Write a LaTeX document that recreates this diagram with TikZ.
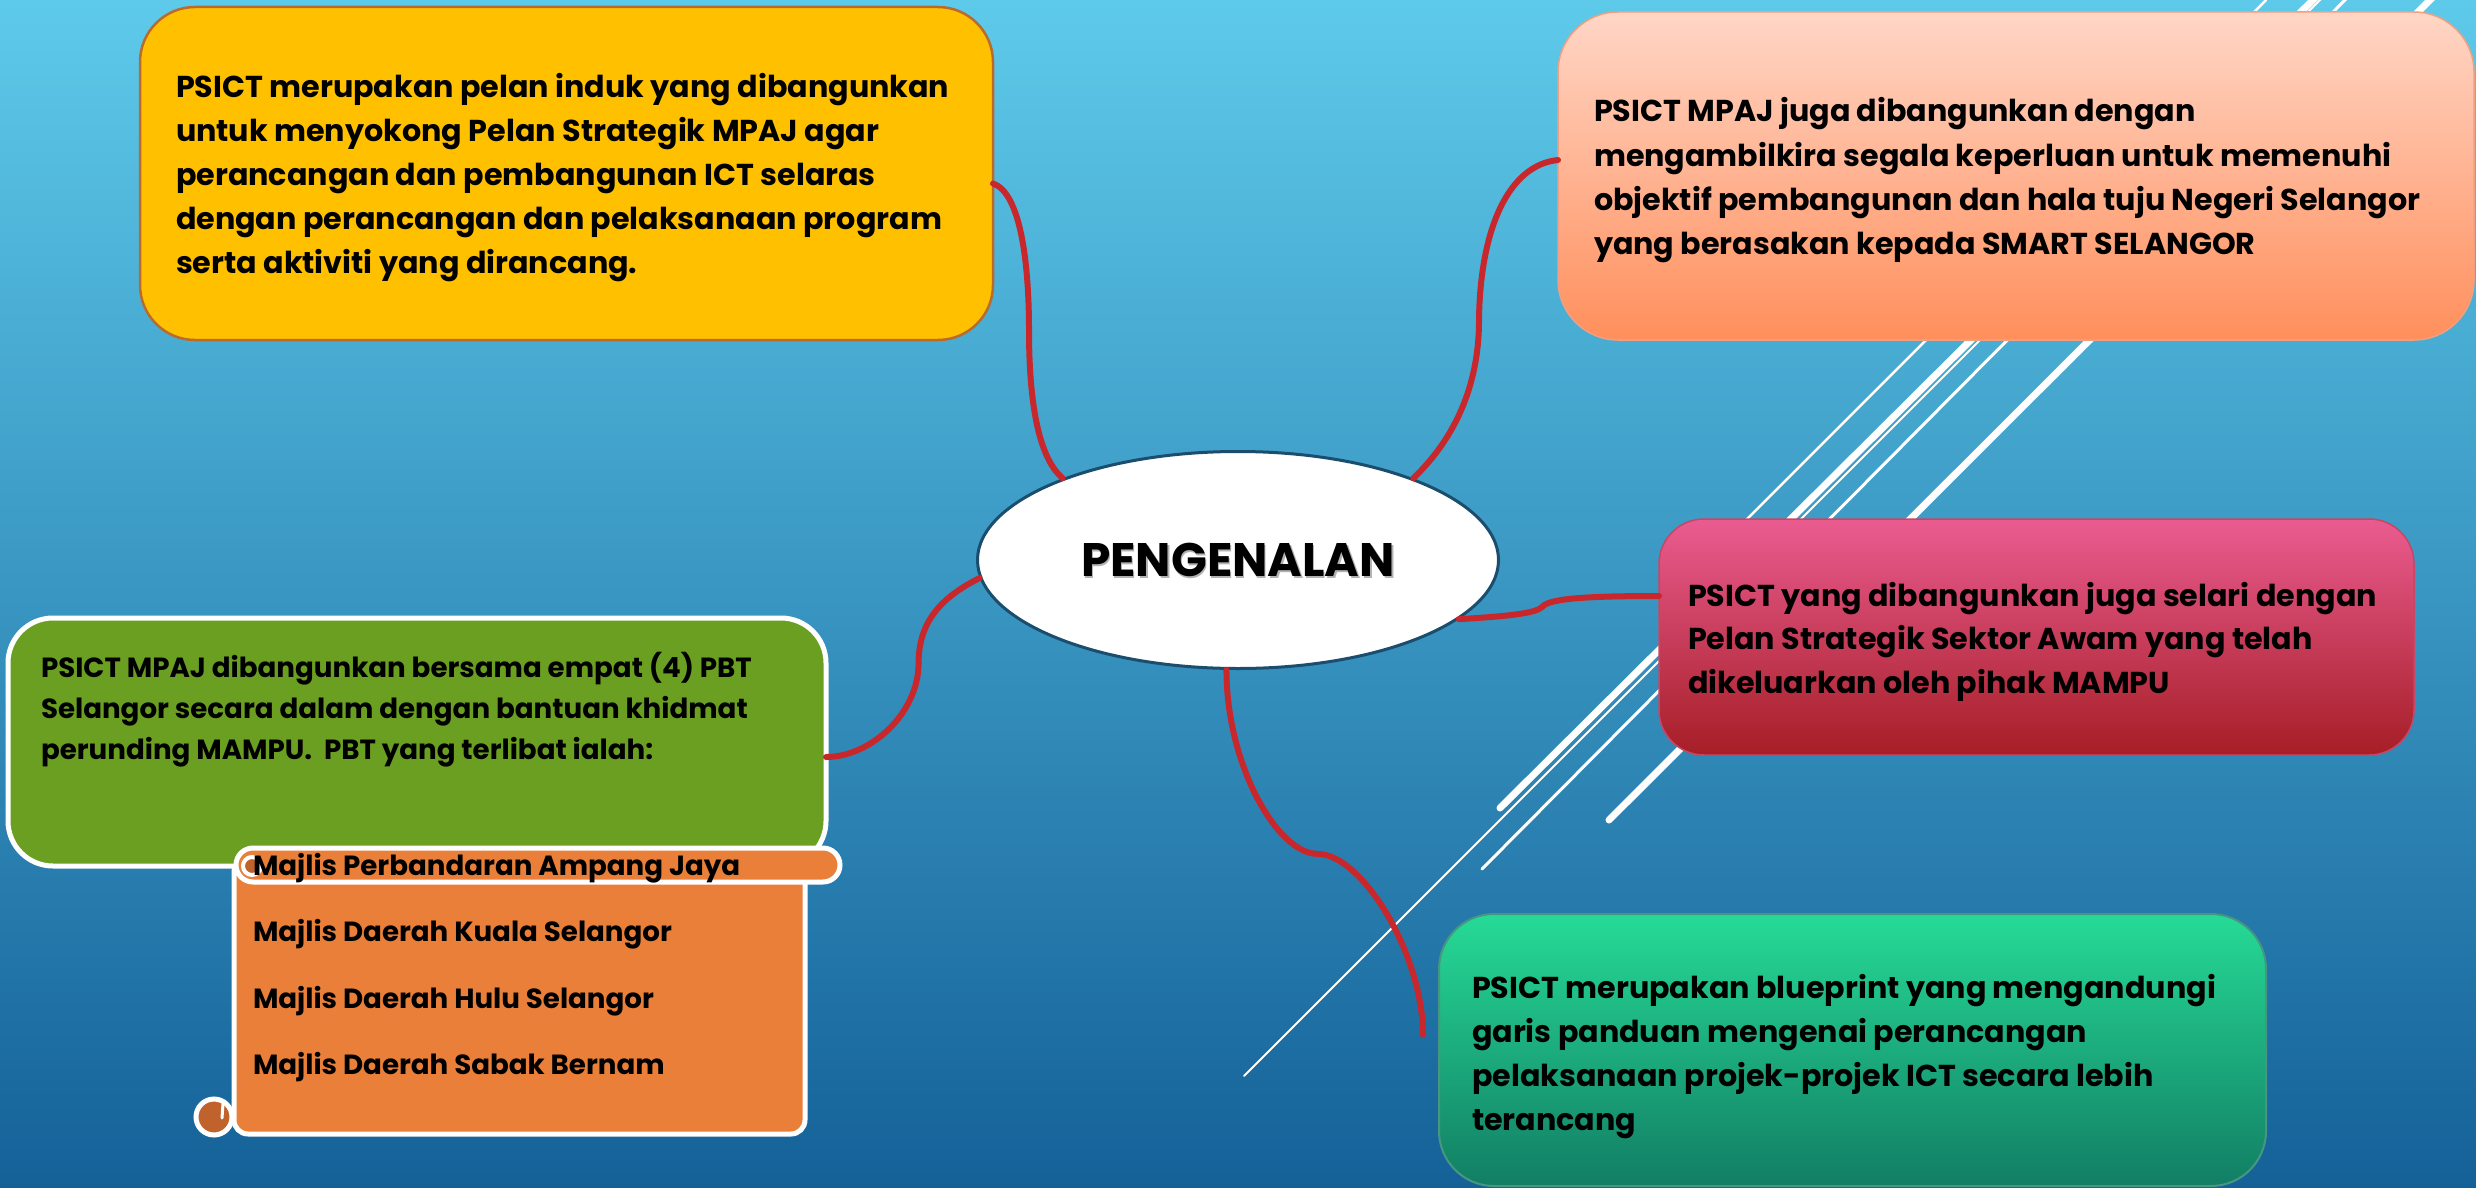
\documentclass[tikz,border=0pt]{standalone}
\usepackage{fontspec}
\setmainfont{Poppins}
\usetikzlibrary{shapes.geometric,calc}
\definecolor{bgtop}{RGB}{94,202,234}
\definecolor{bgmid}{RGB}{55,152,198}
\definecolor{bgbot}{RGB}{20,97,152}
\definecolor{yelfill}{RGB}{255,192,0}
\definecolor{yelline}{RGB}{184,107,42}
\definecolor{peachtop}{RGB}{255,214,198}
\definecolor{peachbot}{RGB}{255,143,92}
\definecolor{peachline}{RGB}{240,160,130}
\definecolor{pinktop}{RGB}{234,92,144}
\definecolor{pinkbot}{RGB}{166,30,38}
\definecolor{pinkline}{RGB}{200,70,100}
\definecolor{greentop}{RGB}{38,218,150}
\definecolor{greenbot}{RGB}{18,126,100}
\definecolor{greenline}{RGB}{70,150,130}
\definecolor{olivefill}{RGB}{106,159,34}
\definecolor{scrollor}{RGB}{233,127,56}
\definecolor{scrolldk}{RGB}{192,98,44}
\definecolor{linkred}{RGB}{200,40,44}
\definecolor{elline}{RGB}{27,77,110}
\begin{document}
\begin{tikzpicture}[x=1pt,y=-1pt,
  box/.style={rectangle, inner sep=0pt, outer sep=0pt},
  txt/.style={anchor=base west, inner sep=0pt, outer sep=0pt, text=black, font=\bfseries\fontsize{30.2}{36}\selectfont},
  txtsm/.style={txt, font=\bfseries\fontsize{27.7}{33}\selectfont},
  conn/.style={draw=linkred, line width=6pt, line cap=round},
  wl/.style={draw=white, line cap=round}]
\useasboundingbox (0,0) rectangle (2476,1188);
\clip (0,0) rectangle (2476,1188);
% background
\shade[top color=bgtop, middle color=bgmid, bottom color=bgbot] (0,0) rectangle (2476,1188);
% decorative white lines
\draw[wl, line width=2.5pt] (2266,0) -- (1700,566);
\draw[wl, line width=7pt] (2318,-5) -- (1500,808);
\draw[wl, line width=2pt] (2325,-5) -- (1244,1076);
\draw[wl, line width=3pt] (2350,-5) -- (1482,869);
\draw[wl, line width=7pt] (2435,-5) -- (1609,820);
% boxes
\node[box, fill=yelfill, draw=yelline, line width=2.5pt, rounded corners=55pt,
  minimum width=853, minimum height=333] (yellow) at (566.5,173.5) {};
\node[box, top color=peachtop, bottom color=peachbot, draw=peachline, line width=1.5pt, rounded corners=60pt,
  minimum width=916, minimum height=328] (peach) at (2016,176) {};
\node[box, top color=pinktop, bottom color=pinkbot, draw=pinkline, line width=1.5pt, rounded corners=45pt,
  minimum width=755, minimum height=236] (pink) at (2036.5,637) {};
\node[box, top color=greentop, bottom color=greenbot, draw=greenline, line width=2pt, rounded corners=55pt,
  minimum width=827, minimum height=272] (green) at (1852.5,1050) {};
\node[box, fill=olivefill, draw=white, line width=5pt, rounded corners=45pt,
  minimum width=818, minimum height=248] (olive) at (417,742) {};
% scroll
\node[box, fill=scrollor, draw=white, line width=5pt, rounded corners=14pt,
  minimum width=571, minimum height=276] (scroll) at (519.5,996) {};
\draw[draw=white, line width=5pt, fill=scrolldk] (214,1117) circle (18);
\draw[draw=white, line width=3pt, line cap=round] (223,1104) -- (222,1118);
\node[box, fill=scrollor, draw=white, line width=5pt, rounded corners=17pt,
  minimum width=604, minimum height=34] (roll) at (538,865) {};
\draw[draw=white, line width=4pt, fill=scrolldk] (252,866) circle (9);
% ellipse
\node[ellipse, fill=white, draw=elline, line width=3pt, inner sep=0pt,
  minimum width=521, minimum height=217] (el) at (1238,560) {};
% connectors
\draw[conn] ([yshift=-10pt]yellow.east) .. controls +(27,9) and +(0,-70) .. ++(36,147)
  .. controls +(0,90) and +(-19,-16) .. (el.155);
\draw[conn] ([yshift=16pt]peach.west) .. controls +(-50,5) and +(1,-90) .. ++(-79,160)
  .. controls +(0,85) and +(25,-24) .. (el.25);
\draw[conn] (el.-15) .. controls +(50,-3) and +(-6,6) .. ++(83,-12)
  .. controls +(6,-8) and +(-80,0) .. ([yshift=41pt]pink.west);
\draw[conn] (el.-96) .. controls +(0,95) and +(-40,0) .. ++(91,184)
  .. controls +(45,0) and +(0,-80) .. ([xshift=-16pt,yshift=15pt]green.west);
\draw[conn] (el.184) .. controls +(-40,20) and +(0,-40) .. ++(-61,85)
  .. controls +(0,50) and +(45,0) .. ([yshift=-15pt]olive.east);
% title
\node[inner sep=0pt, text=black!30, font=\bfseries\fontsize{47}{50}\selectfont] (titlesh) at ([shift={(1.5pt,-1.5pt)}]el.center) {PENGENALAN};
\node[inner sep=0pt, text=black, font=\bfseries\fontsize{47}{50}\selectfont] (title) at (el.center) {PENGENALAN};
% texts
\foreach \t [count=\i] in {{PSICT merupakan pelan induk yang dibangunkan},{untuk menyokong Pelan Strategik MPAJ agar},{perancangan dan pembangunan ICT selaras},{dengan perancangan dan pelaksanaan program},{serta aktiviti yang dirancang.}}
  \node[txt] (ya\i) at (176,{98+43.8*(\i-1)}) {\t};
\foreach \t [count=\i] in {{PSICT MPAJ juga dibangunkan dengan},{mengambilkira segala keperluan untuk memenuhi},{objektif pembangunan dan hala tuju Negeri Selangor},{yang berasakan kepada SMART SELANGOR}}
  \node[txt] (pa\i) at (1594,{122+44.3*(\i-1)}) {\t};
\foreach \t [count=\i] in {{PSICT yang dibangunkan juga selari dengan},{Pelan Strategik Sektor Awam yang telah},{dikeluarkan oleh pihak MAMPU}}
  \node[txt] (pk\i) at (1688,{606+43.5*(\i-1)}) {\t};
\foreach \t [count=\i] in {{PSICT merupakan blueprint yang mengandungi},{garis panduan mengenai perancangan},{pelaksanaan projek-projek ICT secara lebih},{terancang}}
  \node[txt] (gr\i) at (1472,{998+44*(\i-1)}) {\t};
\foreach \t [count=\i] in {{PSICT MPAJ dibangunkan bersama empat (4) PBT},{Selangor secara dalam dengan bantuan khidmat},{perunding MAMPU.\ \ PBT yang terlibat ialah:}}
  \node[txtsm] (ol\i) at (41,{677+41*(\i-1)}) {\t};
\foreach \t [count=\i] in {{Majlis Perbandaran Ampang Jaya},{Majlis Daerah Kuala Selangor},{Majlis Daerah Hulu Selangor},{Majlis Daerah Sabak Bernam}}
  \node[txtsm] (sc\i) at (253,{875+66.5*(\i-1)}) {\t};
\end{tikzpicture}
\end{document}
